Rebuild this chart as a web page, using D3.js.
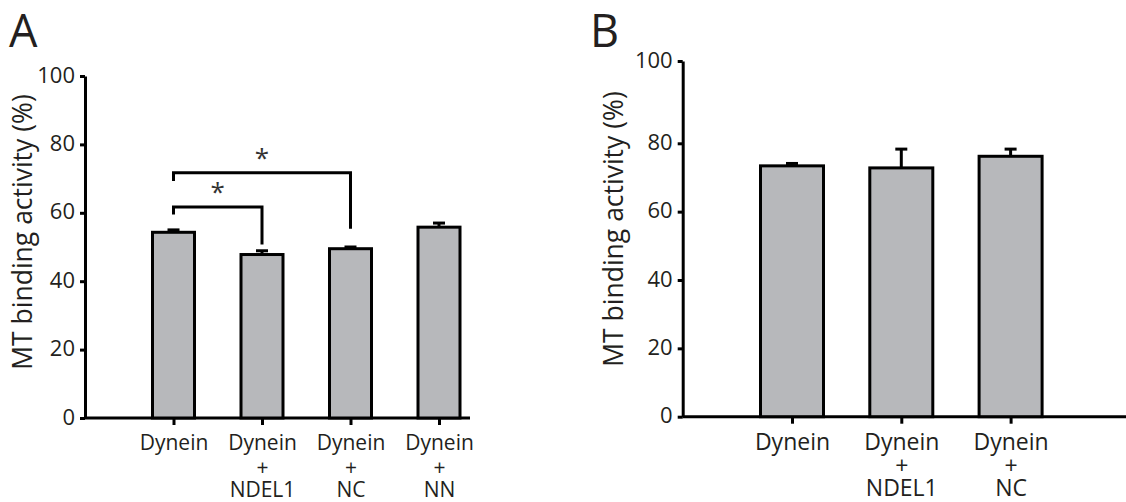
<!DOCTYPE html>
<html>
<head>
<meta charset="utf-8">
<script src="https://cdn.jsdelivr.net/npm/d3@7"></script>
<style>
  body { margin: 0; background: #fff; }
  svg { display: block; }
  svg text { font-family: 'Open Sans', sans-serif; }
  .tick text { fill: #231f20; }
</style>
</head>
<body>
<svg id="chart" width="1126" height="502"></svg>
<script>
// panel A data
const catsA = ['Dynein', 'Dynein+NDEL1', 'Dynein+NC', 'Dynein+NN'];
const valuesA = [54.3, 47.8, 49.5, 55.8];
const errorsA = [0.7, 1.1, 0.5, 1.2];
const sigA = [
  { from: 'Dynein', to: 'Dynein+NDEL1', level: 61.7, leftEnd: 59.5, rightEnd: 50.7, label: '*' },
  { from: 'Dynein', to: 'Dynein+NC', level: 71.7, leftEnd: 69.3, rightEnd: 55.3, label: '*' }
];

// panel B data
const catsB = ['Dynein', 'Dynein+NDEL1', 'Dynein+NC'];
const valuesB = [73.4, 72.8, 76.2];
const errorsB = [0.7, 5.5, 2.1];

const yTicks = [0, 20, 40, 60, 80, 100];
const yLabel = 'MT binding activity (%)';

const svg = d3.select('#chart');
const ink = '#231f20';
const barFill = '#b7b8bb';

function panel(opts) {
  const g = svg.append('g');
  const { axisX, step, barWidth, y, cats, values, errors, xEnd, labelSize } = opts;

  const x = d3.scalePoint()
    .domain(cats)
    .range([axisX + step, axisX + step * cats.length]);

  // y axis
  const yAxis = g.append('g')
    .attr('transform', `translate(${axisX}, 0)`)
    .call(d3.axisLeft(y).tickValues(yTicks).tickSize(5).tickSizeOuter(0).tickPadding(5));
  yAxis.select('.domain').attr('stroke', '#000').attr('stroke-width', 3);
  yAxis.selectAll('.tick line').attr('stroke', '#000').attr('stroke-width', 3);
  yAxis.selectAll('.tick text')
    .attr('font-size', 22)
    .attr('font-family', null)
    .attr('dy', '0.28em');

  // x axis baseline + ticks
  g.append('line')
    .attr('x1', axisX).attr('x2', xEnd)
    .attr('y1', y(0)).attr('y2', y(0))
    .attr('stroke', '#000').attr('stroke-width', 3);

  const xAxis = g.append('g')
    .attr('transform', `translate(0, ${y(0)})`)
    .call(d3.axisBottom(x).tickSize(7).tickSizeOuter(0).tickFormat(''));
  xAxis.select('.domain').remove();
  xAxis.selectAll('.tick line').attr('stroke', '#000').attr('stroke-width', 3);

  // category labels, one line per part
  xAxis.selectAll('.tick').each(function (d) {
    const parts = d.split('+');
    const lines = parts.length > 1 ? [parts[0], '+', parts[1]] : parts;
    const t = d3.select(this).append('text')
      .attr('text-anchor', 'middle')
      .attr('fill', ink)
      .attr('font-size', labelSize);
    lines.forEach((s, i) => {
      t.append('tspan').attr('x', 0).attr('y', opts.lineY[i]).text(s);
    });
  });

  // bars
  g.selectAll('.bar')
    .data(cats)
    .enter()
    .append('rect')
    .attr('x', d => x(d) - barWidth / 2)
    .attr('y', (d, i) => y(values[i]))
    .attr('width', barWidth)
    .attr('height', (d, i) => y(0) - y(values[i]))
    .attr('fill', barFill)
    .attr('stroke', '#000')
    .attr('stroke-width', 3);

  // error bars (upper only)
  cats.forEach((c, i) => {
    const top = y(values[i] + errors[i]);
    g.append('line')
      .attr('x1', x(c)).attr('x2', x(c))
      .attr('y1', y(values[i])).attr('y2', top)
      .attr('stroke', '#000').attr('stroke-width', 3);
    g.append('line')
      .attr('x1', x(c) - 6).attr('x2', x(c) + 6)
      .attr('y1', top).attr('y2', top)
      .attr('stroke', '#000').attr('stroke-width', 3);
  });

  // y label
  g.append('text')
    .attr('transform', `translate(${opts.labelX}, ${opts.labelY}) rotate(-90)`)
    .attr('text-anchor', 'middle')
    .attr('fill', ink)
    .attr('font-size', 26.5)
    .text(yLabel);

  // panel letter
  g.append('text')
    .attr('x', opts.letterX).attr('y', 47)
    .attr('fill', ink)
    .attr('font-size', 45)
    .text(opts.letter);

  return { g, x };
}

const yA = d3.scaleLinear().domain([0, 100]).range([418, 76]);
const a = panel({
  axisX: 85, step: 88.5, barWidth: 42, y: yA,
  cats: catsA, values: valuesA, errors: errorsA, xEnd: 470, labelSize: 21,
  lineY: [32, 57, 79],
  labelX: 32, labelY: 232, letter: 'A', letterX: 9
});

// significance brackets
sigA.forEach(s => {
  const x1 = a.x(s.from), x2 = a.x(s.to);
  a.g.append('path')
    .attr('d', `M${x1},${yA(s.leftEnd)}V${yA(s.level)}H${x2}V${yA(s.rightEnd)}`)
    .attr('fill', 'none')
    .attr('stroke', '#000')
    .attr('stroke-width', 3);
  a.g.append('text')
    .attr('x', (x1 + x2) / 2)
    .attr('y', yA(s.level) - 6)
    .attr('text-anchor', 'middle')
    .attr('fill', '#333')
    .attr('font-size', 26)
    .text(s.label);
});

// panel B: its 80-100 segment is drawn taller than the rest in the source figure
const yB = d3.scaleLinear().domain([0, 80, 100]).range([416.7, 143.3, 61]);
panel({
  axisX: 682.7, step: 109.3, barWidth: 63, y: yB,
  cats: catsB, values: valuesB, errors: errorsB, xEnd: 1126, labelSize: 23,
  lineY: [33, 57, 79],
  labelX: 623, labelY: 229, letter: 'B', letterX: 590
});
</script>
</body>
</html>
